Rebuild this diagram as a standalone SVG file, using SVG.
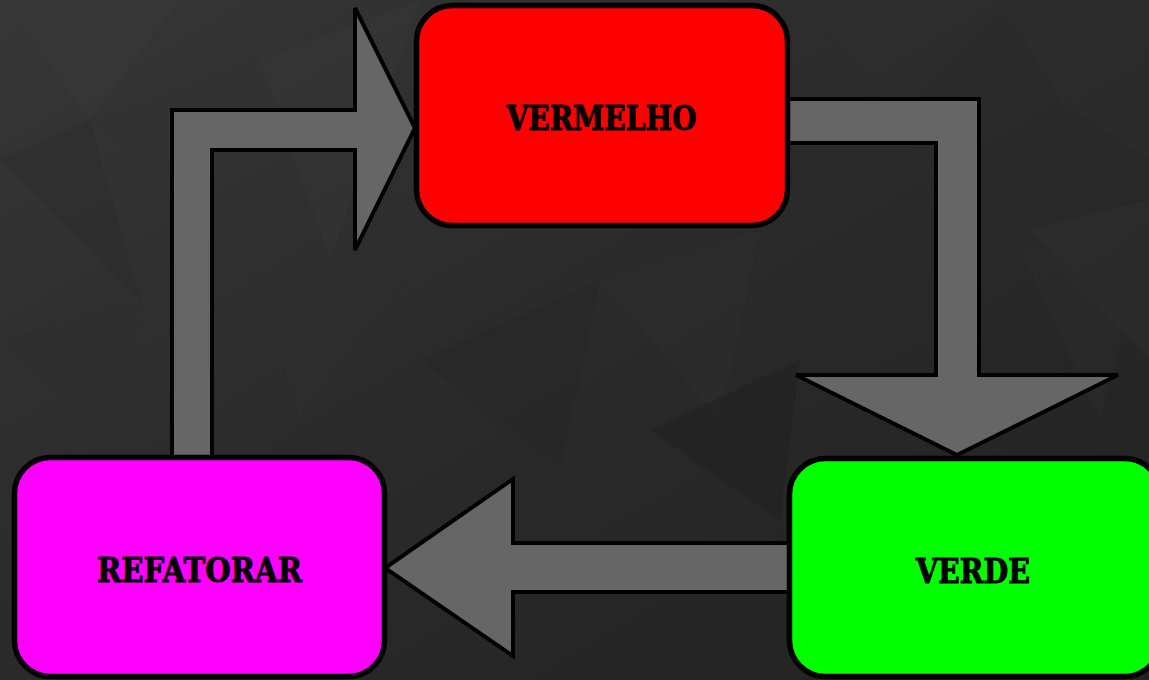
<svg xmlns="http://www.w3.org/2000/svg" width="1149" height="680" viewBox="0 0 1149 680">
<defs>
<style>
.bg{stroke:none}
.arrow{fill:#666666;stroke:#000;stroke-width:4;stroke-linejoin:miter}
.box{stroke:#000;stroke-width:5.5}
.lbl{font-family:"DejaVu Serif","Liberation Serif",serif;font-weight:bold;font-size:33px;fill:#000;stroke:#000;stroke-width:0.9;text-anchor:middle}
</style>
<linearGradient id="bgg" x1="0" y1="0" x2="1" y2="1">
<stop offset="0" stop-color="#363636"/>
<stop offset="0.5" stop-color="#2a2a2a"/>
<stop offset="1" stop-color="#222222"/>
</linearGradient>
</defs>
<g id="background">
<rect width="1149" height="680" fill="url(#bgg)"/>
<polygon class="bg" points="0,0 180,0 90,120" fill="#3a3a3a" opacity="0.4"/>
<polygon class="bg" points="90,120 260,60 240,230" fill="#333333" opacity="0.4"/>
<polygon class="bg" points="0,160 90,120 140,300" fill="#2c2c2c" opacity="0.5"/>
<polygon class="bg" points="260,60 420,0 330,260" fill="#383838" opacity="0.35"/>
<polygon class="bg" points="240,230 420,260 300,420" fill="#303030" opacity="0.4"/>
<polygon class="bg" points="800,0 1000,0 900,120" fill="#303030" opacity="0.4"/>
<polygon class="bg" points="1000,0 1149,0 1149,160 1060,100" fill="#2e2e2e" opacity="0.5"/>
<polygon class="bg" points="1030,230 1149,200 1149,360" fill="#333333" opacity="0.4"/>
<polygon class="bg" points="600,280 760,230 720,420" fill="#2f2f2f" opacity="0.4"/>
<polygon class="bg" points="420,360 600,280 560,470" fill="#262626" opacity="0.4"/>
<polygon class="bg" points="0,340 140,300 120,450" fill="#2e2e2e" opacity="0.4"/>
<polygon class="bg" points="650,430 800,360 780,520" fill="#1f1f1f" opacity="0.4"/>
<polygon class="bg" points="1020,250 1149,230 1100,420" fill="#2d2d2d" opacity="0.4"/>
</g>
<g id="connectors">
<polygon class="arrow" points="172,460 172,110 355,110 355,8 415,128 355,250 355,150 212,150 212,460"/>
<polygon class="arrow" points="786,99 979,99 979,375 1118,375 957,455 796,375 936,375 936,143 786,143"/>
<polygon class="arrow" points="790,543 513,543 513,479 385,568 513,656 513,592 790,592"/>
</g>
<g id="node-vermelho">
<rect class="box" x="416.5" y="5.5" width="371" height="220" rx="36" fill="#ff0000"/>
<text class="lbl" x="601.5" y="130" textLength="190" lengthAdjust="spacingAndGlyphs">VERMELHO</text>
</g>
<g id="node-verde">
<rect class="box" x="789.5" y="458.5" width="371" height="218" rx="36" fill="#00ff00"/>
<text class="lbl" x="973" y="583" textLength="114" lengthAdjust="spacingAndGlyphs">VERDE</text>
</g>
<g id="node-refatorar">
<rect class="box" x="14.5" y="457.5" width="370" height="219" rx="36" fill="#ff00ff"/>
<text class="lbl" x="199.5" y="582" textLength="205" lengthAdjust="spacingAndGlyphs">REFATORAR</text>
</g>
</svg>
